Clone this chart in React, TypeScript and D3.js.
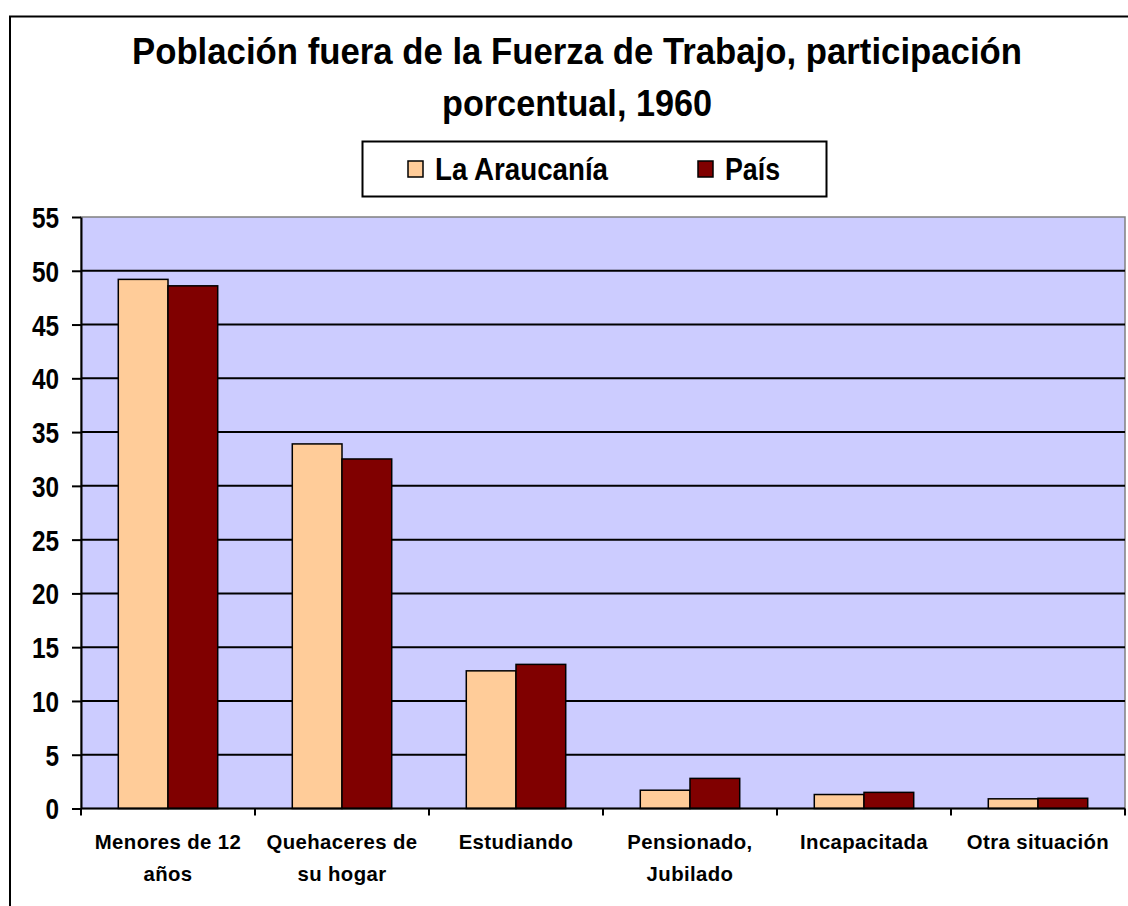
import React, { useEffect, useRef } from 'react';
import * as d3 from 'd3';

// data
const categories = [
  'Menores de 12 años',
  'Quehaceres de su hogar',
  'Estudiando',
  'Pensionado, Jubilado',
  'Incapacitada',
  'Otra situación',
];
const categoryLines = [
  ['Menores de 12', 'años'],
  ['Quehaceres de', 'su hogar'],
  ['Estudiando'],
  ['Pensionado,', 'Jubilado'],
  ['Incapacitada'],
  ['Otra situación'],
];
const seriesNames = ['La Araucanía', 'País'];
const araucania = [49.2, 33.9, 12.8, 1.7, 1.3, 0.9];
const pais = [48.6, 32.5, 13.4, 2.8, 1.5, 0.95];
const yTicks = [0, 5, 10, 15, 20, 25, 30, 35, 40, 45, 50, 55];

const FONT = '"Liberation Sans", Arial, sans-serif';
const colors = ['#FFCC99', '#800000'];

const App = () => {
  const ref = useRef<SVGSVGElement>(null);

  useEffect(() => {
    const svg = d3.select(ref.current);
    svg.selectAll('*').remove();

    const left = 81, right = 1125, top = 217, bottom = 808.5;

    const x = d3.scaleBand().domain(categories).range([left, right]).paddingInner(0).paddingOuter(0);
    const xs = d3.scaleBand().domain(seriesNames).range([0, x.bandwidth()]).paddingInner(0).paddingOuter(0.75);
    const y = d3.scaleLinear().domain([0, 55]).range([bottom, top]);

    // outer chart frame
    svg.append('rect')
      .attr('x', 10).attr('y', 16.5)
      .attr('width', 1140).attr('height', 920)
      .attr('fill', 'white').attr('stroke', 'black').attr('stroke-width', 2);

    // title
    const title = [
      { text: 'Población fuera de la Fuerza de Trabajo, participación', y: 64, len: 890 },
      { text: 'porcentual, 1960', y: 116, len: 270 },
    ];
    title.forEach(t => {
      svg.append('text')
        .attr('x', 577).attr('y', t.y)
        .attr('text-anchor', 'middle')
        .attr('font-family', FONT).attr('font-weight', 'bold').attr('font-size', 37)
        .attr('textLength', t.len).attr('lengthAdjust', 'spacingAndGlyphs')
        .text(t.text);
    });

    // legend
    svg.append('rect')
      .attr('x', 362.5).attr('y', 141.5).attr('width', 464).attr('height', 55)
      .attr('fill', 'white').attr('stroke', 'black').attr('stroke-width', 2);
    const legendX = [408, 698];
    const legendLen = [173, 55];
    seriesNames.forEach((s, i) => {
      svg.append('rect')
        .attr('x', legendX[i]).attr('y', 161).attr('width', 15).attr('height', 16)
        .attr('fill', colors[i]).attr('stroke', 'black').attr('stroke-width', 1.5);
      svg.append('text')
        .attr('x', legendX[i] + 27).attr('y', 180)
        .attr('font-family', FONT).attr('font-weight', 'bold').attr('font-size', 32)
        .attr('textLength', legendLen[i]).attr('lengthAdjust', 'spacingAndGlyphs')
        .text(s);
    });

    // plot area
    svg.append('rect')
      .attr('x', left).attr('y', top).attr('width', right - left).attr('height', bottom - top)
      .attr('fill', '#CCCCFF').attr('stroke', '#808080').attr('stroke-width', 1.5);

    svg.append('g')
      .selectAll('line')
      .data(yTicks.filter(t => t > 0 && t < 55))
      .enter().append('line')
      .attr('x1', left).attr('x2', right)
      .attr('y1', d => y(d)).attr('y2', d => y(d))
      .attr('stroke', 'black').attr('stroke-width', 2);

    // bars
    const values = [araucania, pais];
    seriesNames.forEach((s, si) => {
      svg.append('g')
        .selectAll('rect')
        .data(categories)
        .enter().append('rect')
        .attr('x', c => (x(c) as number) + (xs(s) as number))
        .attr('width', xs.bandwidth())
        .attr('y', (c, i) => y(values[si][i]))
        .attr('height', (c, i) => y(0) - y(values[si][i]))
        .attr('fill', colors[si])
        .attr('stroke', 'black').attr('stroke-width', 1.5);
    });

    // y axis
    const yAxis = svg.append('g')
      .attr('transform', `translate(${left},0)`)
      .call(d3.axisLeft(y).tickValues(yTicks).tickSize(9).tickPadding(22).tickSizeOuter(0));
    yAxis.select('.domain').attr('stroke', 'black').attr('stroke-width', 2);
    yAxis.selectAll('.tick line').attr('stroke', 'black').attr('stroke-width', 2);
    yAxis.selectAll('.tick text')
      .attr('font-family', FONT).attr('font-weight', 'bold').attr('font-size', 29)
      .attr('fill', 'black')
      .attr('dy', '0.36em')
      .attr('x', -22 / 0.84)
      .attr('transform', 'scale(0.84,1)');

    // x axis line and ticks between categories
    const xAxis = svg.append('g');
    xAxis.append('line')
      .attr('x1', left).attr('x2', right).attr('y1', bottom).attr('y2', bottom)
      .attr('stroke', 'black').attr('stroke-width', 2);
    const bounds = categories.map(c => x(c) as number).concat([right]);
    xAxis.selectAll('.xt')
      .data(bounds)
      .enter().append('line')
      .attr('class', 'xt')
      .attr('x1', d => d).attr('x2', d => d)
      .attr('y1', bottom).attr('y2', bottom + 7)
      .attr('stroke', 'black').attr('stroke-width', 2);

    categories.forEach((c, i) => {
      const cx = (x(c) as number) + x.bandwidth() / 2;
      categoryLines[i].forEach((line, li) => {
        svg.append('text')
          .attr('transform', `translate(${cx},${849 + li * 32}) scale(0.97,1)`)
          .attr('text-anchor', 'middle')
          .attr('font-family', FONT).attr('font-weight', 'bold').attr('font-size', 21)
          .attr('letter-spacing', 0.4)
          .text(line);
      });
    });
  }, []);

  return (
    <svg
      ref={ref}
      width={1128}
      height={906}
      style={{ position: 'absolute', left: 0, top: 0, display: 'block', background: 'white' }}
    ></svg>
  );
};

export default App;
